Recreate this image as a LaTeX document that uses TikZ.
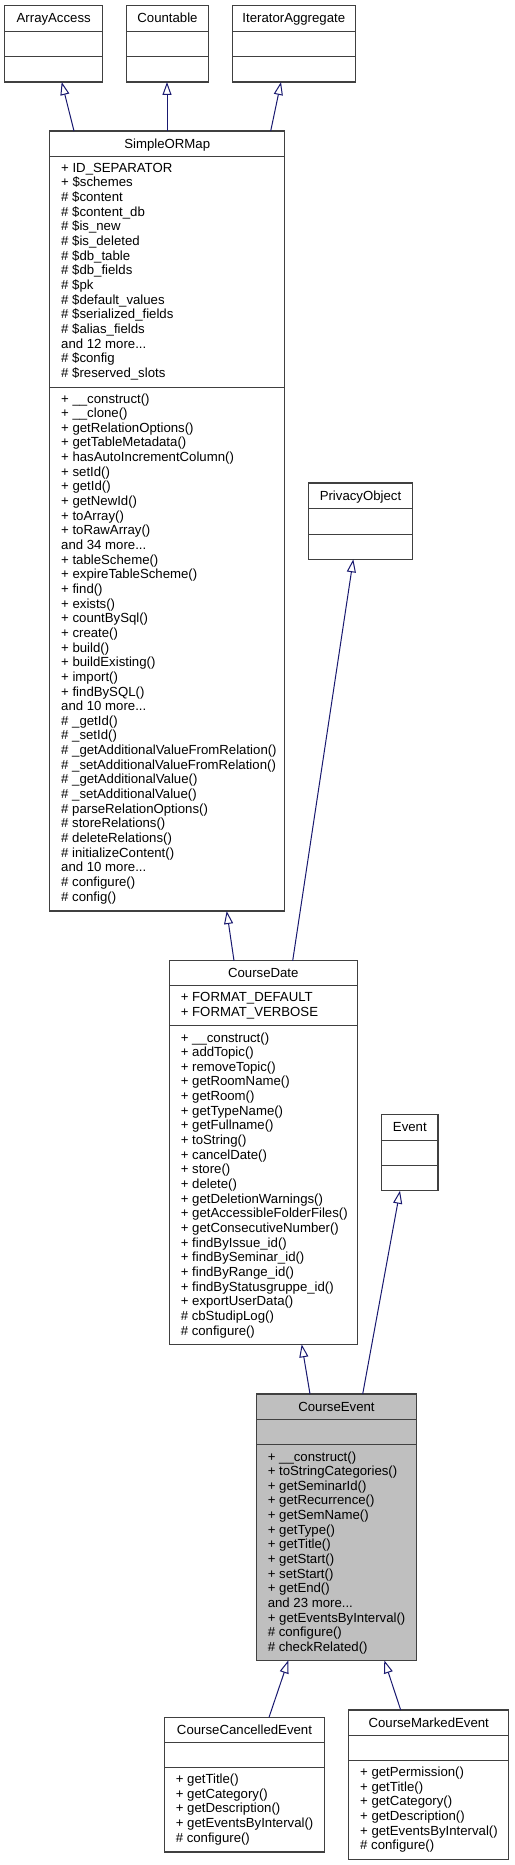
\documentclass[tikz,border=0pt]{standalone}
\usepackage{fontspec}
\setmainfont{Liberation Sans}
\usetikzlibrary{arrows.meta}
\definecolor{edgecol}{HTML}{191970}
\definecolor{bordcol}{HTML}{404040}
\definecolor{cefill}{HTML}{BFBFBF}
\newcommand\mydots{...}
\tikzset{
  cls/.style={draw=bordcol, line width=1.1pt, inner sep=0pt, outer sep=0pt, anchor=north west, fill=white},
  sepline/.style={draw=bordcol, line width=1pt},
  ttl/.style={anchor=base, inner sep=0pt, font=\fontsize{13.2}{14.65}\selectfont},
  mem/.style={anchor=base west, inner sep=0pt, font=\fontsize{13.2}{14.65}\selectfont},
  inh/.style={draw=edgecol, line width=1pt, -{Triangle[open, length=13pt, width=9pt, line width=1pt]}},
}
% name, L, T, R, s1, s2, B, title, extra style
\newcommand\classbox[9]{%
  \node[cls, #9, minimum width={#4-#2}, minimum height={#7-#3}] (#1) at (#2,#3) {};
  \draw[sepline] (#2,#5) -- (#4,#5);
  \draw[sepline] (#2,#6) -- (#4,#6);
  \node[ttl] (#1-title) at ({(#2+#4)/2},{#3+17}) {#8};
}
% name, x, first baseline, list
\newcommand\mlist[4]{%
  \foreach \t [count=\i] in {#4} {
    \node[mem] (#1-\i) at (#2,{#3+(\i-1)*14.65}) {\t};
  }
}
\begin{document}
\begin{tikzpicture}[x=1pt,y=-1pt]
\useasboundingbox (0,0) rectangle (514,1865);
\fill[white] (0,0) rectangle (514,1865);

\classbox{aa}{4.7}{5.7}{102.7}{31.7}{56.7}{82}{ArrayAccess}{}
\classbox{ct}{126.7}{5.7}{208.3}{31.7}{56.7}{82}{Countable}{}
\classbox{ia}{232.3}{5.7}{355.3}{31.7}{56.7}{82}{IteratorAggregate}{}
\classbox{som}{49.7}{131}{284.7}{156.3}{387}{911}{SimpleORMap}{}
\classbox{po}{308.3}{483}{412.7}{508.7}{534}{559.3}{PrivacyObject}{}
\classbox{cd}{169.3}{960.7}{357.3}{985.7}{1025.7}{1344.3}{CourseDate}{}
\classbox{ev}{381.7}{1114.7}{438}{1140}{1165.3}{1190.7}{Event}{}
\classbox{ce}{256.3}{1394}{416.7}{1419}{1444.3}{1660.3}{CourseEvent}{fill=cefill}
\classbox{cce}{164.3}{1717.3}{324.7}{1742.3}{1767.7}{1852}{CourseCancelledEvent}{}
\classbox{cme}{348.7}{1710}{508.7}{1735}{1760.3}{1859.3}{CourseMarkedEvent}{}

\mlist{soma}{61}{172.3}{+ ID\_SEPARATOR, + \$schemes, \# \$content, \# \$content\_db, \# \$is\_new, \# \$is\_deleted, \# \$db\_table, \# \$db\_fields, \# \$pk, \# \$default\_values, \# \$serialized\_fields, \# \$alias\_fields, and 12 more\mydots, \# \$config, \# \$reserved\_slots}
\mlist{somm}{61}{403}{+ \_\_construct(), + \_\_clone(), + getRelationOptions(), + getTableMetadata(), + hasAutoIncrementColumn(), + setId(), + getId(), + getNewId(), + toArray(), + toRawArray(), and 34 more\mydots, + tableScheme(), + expireTableScheme(), + find(), + exists(), + countBySql(), + create(), + build(), + buildExisting(), + import(), + findBySQL(), and 10 more\mydots, \# \_getId(), \# \_setId(), \# \_getAdditionalValueFromRelation(), \# \_setAdditionalValueFromRelation(), \# \_getAdditionalValue(), \# \_setAdditionalValue(), \# parseRelationOptions(), \# storeRelations(), \# deleteRelations(), \# initializeContent(), and 10 more\mydots, \# configure(), \# config()}

\mlist{cda}{180.6}{1001.7}{+ FORMAT\_DEFAULT, + FORMAT\_VERBOSE}
\mlist{cdm}{180.6}{1042}{+ \_\_construct(), + addTopic(), + removeTopic(), + getRoomName(), + getRoom(), + getTypeName(), + getFullname(), + toString(), + cancelDate(), + store(), + delete(), + getDeletionWarnings(), + getAccessibleFolderFiles(), + getConsecutiveNumber(), + findByIssue\_id(), + findBySeminar\_id(), + findByRange\_id(), + findByStatusgruppe\_id(), + exportUserData(), \# cbStudipLog(), \# configure()}

\mlist{cem}{267.6}{1461}{+ \_\_construct(), + toStringCategories(), + getSeminarId(), + getRecurrence(), + getSemName(), + getType(), + getTitle(), + getStart(), + setStart(), + getEnd(), and 23 more\mydots, + getEventsByInterval(), \# configure(), \# checkRelated()}

\mlist{ccem}{175.6}{1783.6}{+ getTitle(), + getCategory(), + getDescription(), + getEventsByInterval(), \# configure()}
\mlist{cmem}{360}{1776.6}{+ getPermission(), + getTitle(), + getCategory(), + getDescription(), + getEventsByInterval(), \# configure()}

\draw[inh] ([xshift=24.3pt]som.north west) -- ([xshift=57pt]aa.south west);
\draw[inh] ([xshift=117.3pt]som.north west) -- ([xshift=40.3pt]ct.south west);
\draw[inh] ([xshift=221pt]som.north west) -- ([xshift=48.7pt]ia.south west);
\draw[inh] ([xshift=64.7pt]cd.north west) -- ([xshift=177pt]som.south west);
\draw[inh] ([xshift=123.4pt]cd.north west) -- ([xshift=45pt]po.south west);
\draw[inh] ([xshift=53.7pt]ce.north west) -- ([xshift=132.4pt]cd.south west);
\draw[inh] ([xshift=106.4pt]ce.north west) -- ([xshift=18.3pt]ev.south west);
\draw[inh] ([xshift=104.7pt]cce.north west) -- ([xshift=32pt]ce.south west);
\draw[inh] ([xshift=52pt]cme.north west) -- ([xshift=128pt]ce.south west);
\end{tikzpicture}
\end{document}
